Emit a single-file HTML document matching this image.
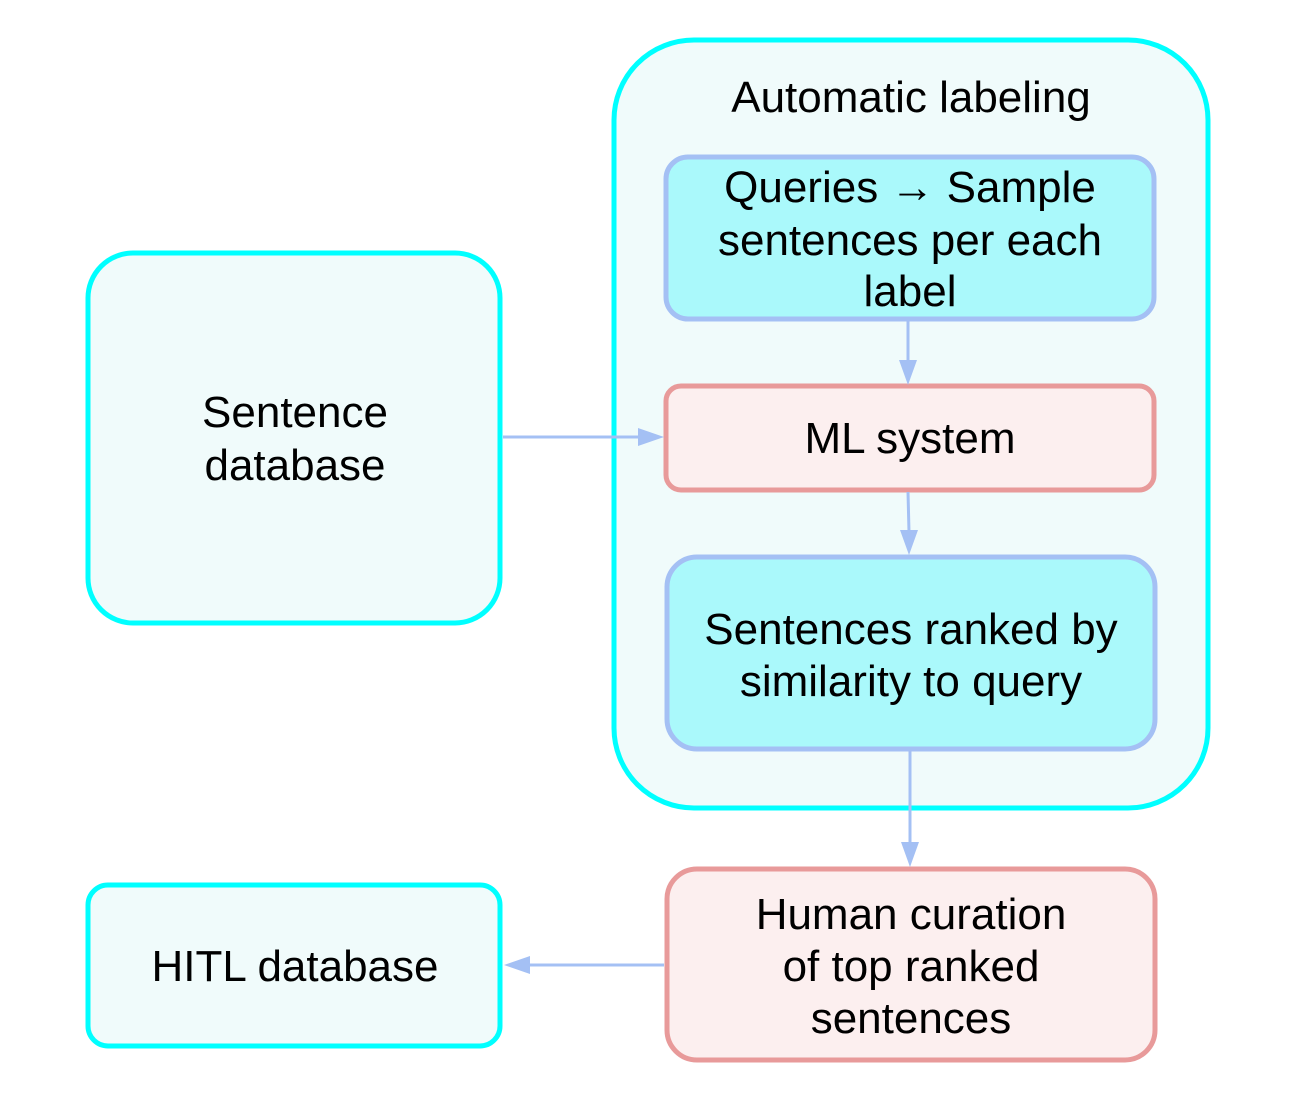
<!DOCTYPE html>
<html><head><meta charset="utf-8"><style>
html,body{margin:0;padding:0;background:#fff;}
svg{display:block;}
text{font-family:"Liberation Sans",Arial,sans-serif;font-size:44px;fill:#000;}
</style></head><body>
<svg width="1314" height="1112" viewBox="0 0 1314 1112">
<rect x="614" y="40" width="594" height="768" rx="80" fill="#f0fbfb" stroke="#00ffff" stroke-width="5"/>
<text x="911" y="112" text-anchor="middle">Automatic labeling</text>
<rect x="88" y="253" width="412" height="370" rx="45" fill="#f0fbfb" stroke="#00ffff" stroke-width="5"/>
<text x="295" y="427" text-anchor="middle">Sentence</text>
<text x="295" y="480" text-anchor="middle">database</text>
<rect x="88" y="885" width="412" height="161" rx="20" fill="#f0fbfb" stroke="#00ffff" stroke-width="5"/>
<text x="295" y="981" text-anchor="middle">HITL database</text>
<rect x="666" y="157" width="488" height="162" rx="22" fill="#aaf9fb" stroke="#a4c0f4" stroke-width="5"/>
<text x="910" y="202" text-anchor="middle">Queries → Sample</text>
<text x="910" y="255" text-anchor="middle">sentences per each</text>
<text x="910" y="306" text-anchor="middle">label</text>
<rect x="666" y="386" width="488" height="104" rx="15" fill="#fcefef" stroke="#e89a9a" stroke-width="5"/>
<text x="910" y="453" text-anchor="middle">ML system</text>
<rect x="667" y="557" width="488" height="192" rx="30" fill="#aaf9fb" stroke="#a4c0f4" stroke-width="5"/>
<text x="911" y="644" text-anchor="middle">Sentences ranked by</text>
<text x="911" y="696" text-anchor="middle">similarity to query</text>
<rect x="667" y="869" width="488" height="191" rx="30" fill="#fcefef" stroke="#e89a9a" stroke-width="5"/>
<text x="911" y="929" text-anchor="middle">Human curation</text>
<text x="911" y="981" text-anchor="middle">of top ranked</text>
<text x="911" y="1033" text-anchor="middle">sentences</text>
<g stroke="#a4c0f4" stroke-width="3" fill="none">
<line x1="503" y1="437" x2="640" y2="437"/>
<line x1="908" y1="321" x2="908" y2="362"/>
<line x1="908" y1="492" x2="909" y2="532"/>
<line x1="910" y1="751" x2="910" y2="844"/>
<line x1="664" y1="965" x2="528" y2="965"/>
</g>
<g fill="#a4c0f4">
<polygon points="664,437 638,428 638,446"/>
<polygon points="908,385 899,360 917,360"/>
<polygon points="909,555 900,530 918,530"/>
<polygon points="910,867 901,842 919,842"/>
<polygon points="504,965 530,956 530,974"/>
</g>
</svg>
</body></html>
